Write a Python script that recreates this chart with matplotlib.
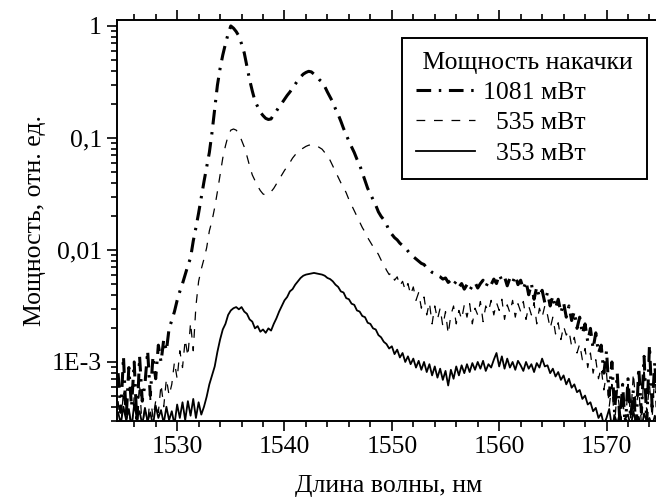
#
#   Spectrum of the fiber source for three pump powers (log scale)
#
import numpy as np
import matplotlib
matplotlib.use("Agg")
import matplotlib.pyplot as plt
from matplotlib.ticker import FixedLocator, MultipleLocator, NullFormatter
#
#   Data: wavelength grid (nm), step 0.25 nm,
#   and log10 of the relative power for every curve
#
wavelength = np.round(np.arange(1524.5, 1575.01, 0.25), 2)

log_p1081 = [
    -3.10, -3.45, -2.95, -3.50, -3.05, -3.40, -3.00, -3.55, -2.95, -3.35,
    -3.20, -2.90, -3.30, -2.95, -3.15, -2.85, -3.00, -2.80, -2.90, -2.70,
    -2.63, -2.55, -2.45, -2.37, -2.30, -2.22, -2.14, -2.07, -1.92, -1.80,
    -1.67, -1.53, -1.39, -1.26, -1.13, -0.95, -0.74, -0.53, -0.38, -0.26,
    -0.16, -0.07, 0.00, -0.02, -0.05, -0.09, -0.16, -0.24, -0.36, -0.48,
    -0.58, -0.67, -0.72, -0.77, -0.80, -0.825, -0.835, -0.83, -0.79, -0.76,
    -0.72, -0.69, -0.655, -0.62, -0.59, -0.555, -0.52, -0.485, -0.455, -0.43,
    -0.415, -0.405, -0.41, -0.43, -0.45, -0.48, -0.50, -0.54, -0.59, -0.635,
    -0.68, -0.74, -0.79, -0.85, -0.915, -0.97, -1.03, -1.08, -1.13, -1.19,
    -1.24, -1.31, -1.38, -1.45, -1.50, -1.55, -1.60, -1.66, -1.70, -1.73,
    -1.77, -1.83, -1.86, -1.89, -1.91, -1.94, -1.96, -1.98, -2.01, -2.04,
    -2.06, -2.08, -2.10, -2.12, -2.13, -2.16, -2.18, -2.20, -2.21, -2.23,
    -2.24, -2.26, -2.25, -2.29, -2.27, -2.31, -2.28, -2.33, -2.30, -2.35,
    -2.31, -2.36, -2.32, -2.29, -2.34, -2.30, -2.27, -2.33, -2.28, -2.31,
    -2.26, -2.30, -2.22, -2.27, -2.24, -2.32, -2.25, -2.29, -2.23, -2.31,
    -2.27, -2.35, -2.28, -2.40, -2.30, -2.44, -2.33, -2.42, -2.36, -2.47,
    -2.38, -2.50, -2.41, -2.52, -2.44, -2.56, -2.47, -2.60, -2.50, -2.63,
    -2.55, -2.70, -2.60, -2.75, -2.66, -2.82, -2.70, -2.88, -2.74, -2.92,
    -2.85, -3.10, -2.90, -3.30, -3.00, -3.45, -3.10, -3.55, -3.20, -3.60,
    -3.15, -3.50, -3.25, -3.60, -3.05, -3.45, -2.95, -3.55, -2.85, -3.40,
    -3.00, -3.50, -3.20]

log_p535 = [
    -3.35, -3.60, -3.25, -3.55, -3.40, -3.65, -3.30, -3.50, -3.20, -3.60,
    -3.40, -3.55, -3.30, -3.50, -3.35, -3.45, -3.20, -3.40, -3.15, -3.30,
    -3.20, -3.00, -3.15, -2.90, -3.05, -2.80, -2.95, -2.65, -2.90, -2.50,
    -2.28, -2.17, -2.08, -1.98, -1.83, -1.74, -1.62, -1.48, -1.33, -1.18,
    -1.07, -0.98, -0.93, -0.92, -0.93, -0.96, -1.02, -1.08, -1.16, -1.25,
    -1.33, -1.38, -1.43, -1.47, -1.50, -1.51, -1.50, -1.48, -1.45, -1.41,
    -1.37, -1.33, -1.29, -1.255, -1.22, -1.18, -1.15, -1.125, -1.105, -1.09,
    -1.075, -1.065, -1.06, -1.06, -1.07, -1.085, -1.10, -1.13, -1.16, -1.20,
    -1.25, -1.30, -1.35, -1.40, -1.44, -1.49, -1.55, -1.60, -1.65, -1.70,
    -1.75, -1.80, -1.84, -1.89, -1.93, -1.97, -2.00, -2.04, -2.09, -2.13,
    -2.18, -2.22, -2.20, -2.27, -2.24, -2.32, -2.28, -2.36, -2.30, -2.40,
    -2.33, -2.45, -2.38, -2.52, -2.42, -2.58, -2.47, -2.66, -2.50, -2.62,
    -2.52, -2.68, -2.55, -2.75, -2.58, -2.50, -2.66, -2.54, -2.62, -2.49,
    -2.60, -2.48, -2.66, -2.52, -2.58, -2.46, -2.64, -2.50, -2.55, -2.45,
    -2.58, -2.47, -2.54, -2.44, -2.62, -2.49, -2.56, -2.45, -2.60, -2.48,
    -2.55, -2.46, -2.62, -2.50, -2.58, -2.47, -2.66, -2.52, -2.60, -2.50,
    -2.58, -2.70, -2.60, -2.75, -2.65, -2.80, -2.68, -2.76, -2.72, -2.86,
    -2.78, -2.92, -2.84, -2.98, -2.88, -3.05, -2.92, -3.10, -2.98, -3.15,
    -3.05, -3.25, -3.10, -3.40, -3.20, -3.55, -3.25, -3.45, -3.30, -3.60,
    -3.20, -3.50, -3.10, -3.40, -3.25, -3.55, -3.05, -3.45, -3.20, -3.50,
    -3.10, -3.45, -3.30]

log_p353 = [
    -3.45, -3.55, -3.40, -3.52, -3.42, -3.58, -3.38, -3.50, -3.44, -3.56,
    -3.41, -3.53, -3.45, -3.57, -3.39, -3.50, -3.43, -3.55, -3.40, -3.52,
    -3.44, -3.56, -3.38, -3.50, -3.36, -3.52, -3.35, -3.48, -3.33, -3.50,
    -3.36, -3.47, -3.40, -3.31, -3.20, -3.12, -3.04, -2.91, -2.80, -2.71,
    -2.66, -2.58, -2.54, -2.52, -2.51, -2.53, -2.51, -2.55, -2.57, -2.62,
    -2.64, -2.70, -2.68, -2.73, -2.71, -2.74, -2.70, -2.72, -2.66, -2.61,
    -2.55, -2.50, -2.45, -2.42, -2.37, -2.35, -2.31, -2.28, -2.25, -2.23,
    -2.22, -2.215, -2.21, -2.205, -2.21, -2.215, -2.22, -2.23, -2.25, -2.26,
    -2.28, -2.31, -2.33, -2.37, -2.38, -2.43, -2.44, -2.48, -2.49, -2.54,
    -2.55, -2.59, -2.60, -2.65, -2.66, -2.70, -2.71, -2.76, -2.78, -2.82,
    -2.84, -2.88, -2.86, -2.93, -2.89, -2.96, -2.92, -3.00, -2.95, -3.02,
    -2.97, -3.05, -2.99, -3.07, -3.00, -3.09, -3.02, -3.12, -3.04, -3.14,
    -3.06, -3.16, -3.08, -3.21, -3.07, -3.15, -3.04, -3.12, -3.03, -3.10,
    -3.02, -3.09, -3.01, -3.07, -3.00, -3.06, -2.99, -3.08, -3.02, -3.05,
    -2.98, -2.92, -3.04, -2.95, -3.06, -2.97, -3.05, -3.00, -3.07, -2.99,
    -3.03, -3.08, -3.00, -3.06, -3.02, -3.09, -3.01, -3.05, -2.97, -3.04,
    -3.03, -3.10, -3.06, -3.13, -3.09, -3.16, -3.12, -3.20, -3.15, -3.23,
    -3.20, -3.27, -3.25, -3.33, -3.30, -3.38, -3.36, -3.44, -3.41, -3.50,
    -3.46, -3.56, -3.50, -3.42, -3.58, -3.48, -3.55, -3.45, -3.60, -3.50,
    -3.47, -3.58, -3.44, -3.55, -3.49, -3.60, -3.46, -3.53, -3.50, -3.57,
    -3.48, -3.56, -3.52]

legend_title = "Мощность накачки"
labels = ["1081 мВт", "  535 мВт", "  353 мВт"]
y_ticks = [1e-3, 1e-2, 1e-1, 1.0]
y_tick_labels = ["1E-3", "0,01", "0,1", "1"]
x_ticks = [1530, 1540, 1550, 1560, 1570]
#
#   Figure
#
plt.rcParams['font.family'] = ['Liberation Serif', 'DejaVu Serif']
plt.rcParams['font.size'] = 18.5

fig = plt.figure(figsize=(6.56, 4.98), dpi=100)
ax = fig.add_axes([0.1784, 0.1546, 0.828, 0.8052])

ax.plot(wavelength, 10**np.array(log_p1081), color='k', lw=2.2,
        dashes=(4.8, 2.5, 0.8, 2.5), label=labels[0])
ax.plot(wavelength, 10**np.array(log_p535), color='k', lw=0.9,
        dashes=(7, 7), label=labels[1])
ax.plot(wavelength, 10**np.array(log_p353), color='k', lw=1.3,
        label=labels[2])

ax.set_yscale('log')
ax.set_ylim(2.97e-4, 1.13)
ax.set_xlim(1524.4, 1575.0)

ax.yaxis.set_major_locator(FixedLocator(y_ticks))
ax.set_yticklabels(y_tick_labels)
ax.yaxis.set_minor_formatter(NullFormatter())
ax.set_xticks(x_ticks)
ax.xaxis.set_minor_locator(MultipleLocator(2))

ax.tick_params(which='both', direction='out', top=True, right=False,
               width=1.2, pad=4)
ax.tick_params(which='major', length=7)
ax.tick_params(which='minor', length=4)
for s in ax.spines.values():
    s.set_linewidth(1.4)

ax.set_xlabel("Длина волны, нм", labelpad=12)
ax.set_ylabel("Мощность, отн. ед.", labelpad=4)

leg = ax.legend(title=" " + legend_title, loc='upper right',
                bbox_to_anchor=(0.986, 0.9237), bbox_transform=fig.transFigure,
                borderaxespad=0, fancybox=False, frameon=True, edgecolor='k',
                framealpha=1, handlelength=2.3, handletextpad=0.3,
                labelspacing=0.28, borderpad=0.55, alignment='left',
                title_fontsize=18.5)
leg.get_frame().set_linewidth(1.4)

fig.savefig("out.png", dpi=100)
